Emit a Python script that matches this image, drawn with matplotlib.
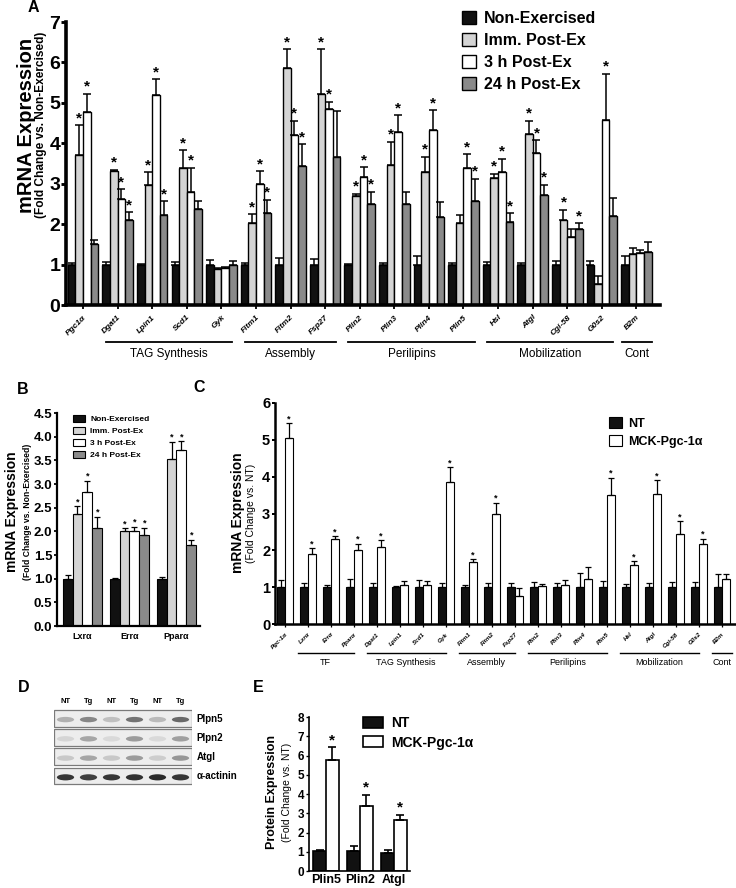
import numpy as np
import matplotlib
matplotlib.use('Agg')
import matplotlib.pyplot as plt
from matplotlib.patches import Rectangle, Ellipse
from matplotlib.transforms import blended_transform_factory

plt.rcParams['font.family'] = ['Liberation Sans', 'DejaVu Sans']

# ---------------- data ----------------
# panel A: exercise time course (fold change vs. non-exercised)
a_genes = ['Pgc1α', 'Dgat1', 'Lpin1', 'Scd1', 'Gyk', 'Fitm1', 'Fitm2', 'Fsp27', 'Plin2',
           'Plin3', 'Plin4', 'Plin5', 'Hsl', 'Atgl', 'Cgi-58', 'G0s2', 'B2m']
a_non = [1.0, 1.0, 1.0, 1.0, 1.0, 1.0, 1.0, 1.0, 1.0, 1.0, 1.0, 1.0, 1.0, 1.0, 1.0, 1.0, 1.0]
a_non_err = [0.05, 0.06, 0.02, 0.07, 0.12, 0.05, 0.17, 0.15, 0.01, 0.05, 0.2, 0.04, 0.06, 0.03, 0.1, 0.08, 0.22]
a_imm = [3.72, 3.32, 2.96, 3.38, 0.88, 2.02, 5.87, 5.22, 2.70, 3.46, 3.29, 2.03, 3.14, 4.22, 2.10, 0.52, 1.25]
a_imm_err = [0.73, 0.03, 0.32, 0.45, 0.03, 0.22, 0.45, 1.10, 0.05, 0.58, 0.38, 0.19, 0.11, 0.34, 0.26, 0.19, 0.17]
a_3h = [4.78, 2.62, 5.20, 2.80, 0.92, 2.99, 4.21, 4.85, 3.16, 4.27, 4.32, 3.39, 3.29, 3.77, 1.67, 4.57, 1.28]
a_3h_err = [0.45, 0.25, 0.38, 0.60, 0.02, 0.32, 0.35, 0.18, 0.25, 0.43, 0.50, 0.34, 0.33, 0.31, 0.21, 1.15, 0.08]
a_24h = [1.50, 2.11, 2.22, 2.37, 0.98, 2.27, 3.45, 3.65, 2.50, 2.50, 2.17, 2.58, 2.06, 2.72, 1.88, 2.20, 1.31]
a_24h_err = [0.10, 0.18, 0.35, 0.20, 0.10, 0.33, 0.52, 1.15, 0.30, 0.30, 0.37, 0.54, 0.21, 0.25, 0.14, 0.44, 0.25]
a_non_star = [0] * 17
a_imm_star = [1, 1, 1, 1, 0, 1, 1, 1, 1, 1, 1, 0, 1, 1, 1, 0, 0]
a_3h_star = [1, 1, 1, 1, 0, 1, 1, 1, 1, 1, 1, 1, 1, 1, 0, 1, 0]
a_24h_star = [0, 1, 1, 0, 0, 1, 1, 0, 1, 0, 0, 1, 1, 1, 1, 0, 0]
a_groups = [('TAG Synthesis', 1, 4), ('Assembly', 5, 7), ('Perilipins', 8, 11),
            ('Mobilization', 12, 15), ('Cont', 16, 16)]
time_labels = ['Non-Exercised', 'Imm. Post-Ex', '3 h Post-Ex', '24 h Post-Ex']

# panel B: transcription factors
b_genes = ['Lxrα', 'Errα', 'Pparα']
b_non = [1.0, 1.0, 1.0]
b_non_err = [0.08, 0.01, 0.03]
b_imm = [2.36, 2.01, 3.52]
b_imm_err = [0.17, 0.05, 0.37]
b_3h = [2.84, 2.01, 3.72]
b_3h_err = [0.23, 0.09, 0.18]
b_24h = [2.06, 1.92, 1.72]
b_24h_err = [0.25, 0.15, 0.10]
b_non_star = [0, 0, 0]
b_imm_star = [1, 1, 1]
b_3h_star = [1, 1, 1]
b_24h_star = [1, 1, 1]

# panel C: MCK-Pgc-1a vs NT
c_genes = ['Pgc-1α', 'Lxrα', 'Errα', 'Pparα', 'Dgat1', 'Lpin1', 'Scd1', 'Gyk', 'Fitm1', 'Fitm2',
           'Fsp27', 'Plin2', 'Plin3', 'Plin4', 'Plin5', 'Hsl', 'Atgl', 'Cgi-58', 'G0s2', 'B2m']
c_nt = [1.0] * 20
c_nt_err = [0.2, 0.1, 0.05, 0.22, 0.1, 0.03, 0.2, 0.1, 0.05, 0.12, 0.11, 0.14, 0.12, 0.38, 0.17,
            0.08, 0.11, 0.14, 0.15, 0.35]
c_mck = [5.06, 1.90, 2.31, 2.00, 2.08, 1.06, 1.06, 3.86, 1.68, 2.99, 0.77, 1.02, 1.06, 1.22, 3.49,
         1.59, 3.54, 2.45, 2.18, 1.23]
c_mck_err = [0.39, 0.16, 0.07, 0.18, 0.19, 0.11, 0.11, 0.39, 0.08, 0.30, 0.21, 0.06, 0.14, 0.32, 0.48,
             0.11, 0.36, 0.34, 0.14, 0.12]
c_nt_star = [0] * 20
c_mck_star = [1, 1, 1, 1, 1, 0, 0, 1, 1, 1, 0, 0, 0, 0, 1, 1, 1, 1, 1, 0]
c_groups = [('TF', 1, 3), ('TAG Synthesis', 4, 7), ('Assembly', 8, 10), ('Perilipins', 11, 14),
            ('Mobilization', 15, 18), ('Cont', 19, 19)]
geno_labels = ['NT', 'MCK-Pgc-1α']

# panel D: western blot (band darkness 0..1)
d_lanes = ['NT', 'Tg', 'NT', 'Tg', 'NT', 'Tg']
d_rows = ['Plpn5', 'Plpn2', 'Atgl', 'α-actinin']
d_bands = [[0.30, 0.50, 0.22, 0.60, 0.25, 0.65],
           [0.12, 0.35, 0.10, 0.40, 0.10, 0.38],
           [0.18, 0.35, 0.18, 0.40, 0.16, 0.42],
           [0.90, 0.85, 0.90, 0.92, 0.95, 0.90]]

# panel E: protein expression
e_prot = ['Plin5', 'Plin2', 'Atgl']
e_nt = [1.04, 1.02, 0.95]
e_nt_err = [0.06, 0.28, 0.15]
e_mck = [5.75, 3.39, 2.67]
e_mck_err = [0.69, 0.58, 0.26]
e_nt_star = [0, 0, 0]
e_mck_star = [1, 1, 1]

c_black = '#111111'
c_light = '#d4d4d4'
c_white = '#ffffff'
c_dark = '#8a8a8a'

W, H = 736, 888
fig = plt.figure(figsize=(W / 100, H / 100), dpi=100)


def px_axes(l, t, r, b):
    return fig.add_axes([l / W, 1 - b / H, (r - l) / W, (b - t) / H])


def ftext(x, y, s, **kw):
    fig.text(x / W, 1 - y / H, s, **kw)


def draw_groups(ax, series, errs, stars, colors, width, lw, elw, capsize, star_fs):
    n = len(series[0])
    k = len(series)
    x = np.arange(n)
    handles = []
    for j in range(k):
        xs = x + (j - (k - 1) / 2) * width
        b = ax.bar(xs, series[j], width, color=colors[j], edgecolor='black', linewidth=lw, zorder=2)
        ax.errorbar(xs, series[j], yerr=[np.zeros(n), errs[j]], fmt='none', ecolor='black',
                    elinewidth=elw, capsize=capsize, capthick=elw, zorder=3)
        for xi, v, e, s in zip(xs, series[j], errs[j], stars[j]):
            if s:
                ax.text(xi, v + e, '*', ha='center', va='bottom', fontsize=star_fs,
                        fontweight='bold', zorder=4)
        handles.append(b)
    return handles


def style_axes(ax, lw, ylim, yticks, ylabels, yfs, tick_len):
    for s in ['top', 'right']:
        ax.spines[s].set_visible(False)
    for s in ['left', 'bottom']:
        ax.spines[s].set_linewidth(lw)
    ax.set_ylim(*ylim)
    ax.set_yticks(yticks)
    ax.set_yticklabels(ylabels, fontsize=yfs, fontweight='bold')
    ax.tick_params(axis='y', width=lw * 0.8, length=tick_len, pad=1)
    ax.tick_params(axis='x', width=lw * 0.5, length=tick_len * 0.8)
    ax.patch.set_visible(False)


def group_lines(ax, groups, y_line, y_text, pad_l, pad_r, fs, lw):
    tr = blended_transform_factory(ax.transData, fig.transFigure)
    for name, i0, i1 in groups:
        l = i0 - (0.42 if i0 == i1 else pad_l)
        r = i1 + (0.44 if i0 == i1 else pad_r)
        ax.plot([l, r], [1 - y_line / H] * 2, color='black', lw=lw, transform=tr, clip_on=False)
        ax.text((l + r) / 2, 1 - y_text / H, name, ha='center', va='center', fontsize=fs,
                transform=tr)


# ---------------- panel A ----------------
ax_a = px_axes(66, 22, 660, 305)
ha = draw_groups(ax_a, [a_non, a_imm, a_3h, a_24h], [a_non_err, a_imm_err, a_3h_err, a_24h_err],
                 [a_non_star, a_imm_star, a_3h_star, a_24h_star],
                 [c_black, c_light, c_white, c_dark], 0.22, 1.0, 1.1, 3.2, 11)
style_axes(ax_a, 2.6, (0, 7), range(8), [str(v) for v in range(8)], 14, 3.5)
ax_a.tick_params(axis='y', pad=0.5)
ax_a.set_xlim(-0.49, 16.68)
ax_a.set_xticks(np.arange(len(a_genes)))
ax_a.set_xticklabels(a_genes, rotation=45, ha='right', rotation_mode='anchor', fontsize=6,
                     fontweight='bold', fontstyle='italic')
group_lines(ax_a, a_groups, 342, 354, 0.33, 0.32, 8.5, 1.3)
ax_a.legend(ha, time_labels, loc='upper left', bbox_to_anchor=(462 / W, 1 - 11 / H),
            bbox_transform=fig.transFigure, frameon=False, prop={'weight': 'bold', 'size': 11.5},
            handlelength=0.9, handleheight=0.9, handletextpad=0.5, labelspacing=0.42,
            borderpad=0, borderaxespad=0)
ftext(27, 125, 'mRNA Expression', rotation=90, ha='center', va='center', fontsize=14.5,
      fontweight='bold')
ftext(41, 125, '(Fold Change vs. Non-Exercised)', rotation=90, ha='center', va='center',
      fontsize=8.6, fontweight='bold')
ftext(28, 8, 'A', ha='left', va='center', fontsize=11.5, fontweight='bold')

# ---------------- panel B ----------------
ax_b = px_axes(57, 413, 200, 626)
hb = draw_groups(ax_b, [b_non, b_imm, b_3h, b_24h], [b_non_err, b_imm_err, b_3h_err, b_24h_err],
                 [b_non_star, b_imm_star, b_3h_star, b_24h_star],
                 [c_black, c_light, c_white, c_dark], 0.21, 0.8, 0.9, 2.2, 6.5)
bt = np.arange(0, 4.6, 0.5)
style_axes(ax_b, 1.6, (0, 4.5), bt, [f'{v:.1f}' for v in bt], 9.5, 2.5)
ax_b.set_xlim(-0.54, 2.5)
ax_b.set_xticks(np.arange(len(b_genes)))
ax_b.set_xticklabels(b_genes, fontsize=6.5, fontweight='bold')
ax_b.tick_params(axis='x', length=0, pad=4)
ax_b.legend(hb, time_labels, loc='upper left', bbox_to_anchor=(73 / W, 1 - 415 / H),
            bbox_transform=fig.transFigure, frameon=False, prop={'weight': 'bold', 'size': 6},
            handlelength=1.45, handleheight=0.85, handletextpad=0.6, labelspacing=0.45,
            borderpad=0, borderaxespad=0)
ftext(12, 512, 'mRNA Expression', rotation=90, ha='center', va='center', fontsize=10,
      fontweight='bold')
ftext(27, 512, '(Fold Change vs. Non-Exercised)', rotation=90, ha='center', va='center',
      fontsize=6.2, fontweight='bold')
ftext(17, 389, 'B', ha='left', va='center', fontsize=11.5, fontweight='bold')

# ---------------- panel C ----------------
ax_c = px_axes(275, 403, 735, 624)
hc = draw_groups(ax_c, [c_nt, c_mck], [c_nt_err, c_mck_err], [c_nt_star, c_mck_star],
                 [c_black, c_white], 0.35, 0.8, 0.9, 2.2, 6.5)
style_axes(ax_c, 1.8, (0, 6), range(7), [str(v) for v in range(7)], 10.5, 2.5)
ax_c.set_xlim(-0.43, 19.57)
ax_c.set_xticks(np.arange(len(c_genes)))
ax_c.set_xticklabels(c_genes, rotation=45, ha='right', rotation_mode='anchor', fontsize=4.5,
                     fontweight='bold', fontstyle='italic')
group_lines(ax_c, c_groups, 653, 662, 0.45, 0.0, 6.5, 1.0)
ax_c.legend(hc, geno_labels, loc='upper left', bbox_to_anchor=(609 / W, 1 - 417 / H),
            bbox_transform=fig.transFigure, frameon=False, prop={'weight': 'bold', 'size': 9},
            handlelength=1.0, handleheight=1.0, handletextpad=0.5, labelspacing=0.4,
            borderpad=0, borderaxespad=0)
ftext(238, 513, 'mRNA Expression', rotation=90, ha='center', va='center', fontsize=10,
      fontweight='bold')
ftext(251, 513, '(Fold Change vs. NT)', rotation=90, ha='center', va='center', fontsize=7.5)
ftext(193, 387, 'C', ha='left', va='center', fontsize=11.5, fontweight='bold')

# ---------------- panel D ----------------
ax_d = px_axes(54, 709, 192, 786)
ax_d.set_xlim(-0.5, len(d_lanes) - 0.5)
ax_d.set_ylim(len(d_rows), 0)
ax_d.axis('off')
for r, (name, dens) in enumerate(zip(d_rows, d_bands)):
    ax_d.add_patch(Rectangle((-0.5, r + 0.04), len(d_lanes), 0.88, facecolor='#ededed',
                             edgecolor='#7a7a7a', linewidth=0.9))
    for k, v in enumerate(dens):
        g = 0.93 - 0.8 * v
        ax_d.add_patch(Ellipse((k, r + 0.55), 0.75, 0.28 if r < 3 else 0.32,
                               facecolor=(g, g, g), edgecolor='none'))
    ax_d.text(len(d_lanes) - 0.3, r + 0.5, name, ha='left', va='center', fontsize=7,
              fontweight='bold', clip_on=False)
for k, lane in enumerate(d_lanes):
    ax_d.text(k, -0.22, lane, ha='center', va='bottom', fontsize=5.5, fontweight='bold',
              clip_on=False)
ftext(18, 688, 'D', ha='left', va='center', fontsize=11.5, fontweight='bold')

# ---------------- panel E ----------------
ax_e = px_axes(309, 717, 410, 871)
he = draw_groups(ax_e, [e_nt, e_mck], [e_nt_err, e_mck_err], [e_nt_star, e_mck_star],
                 [c_black, c_white], 0.37, 1.2, 1.2, 3.0, 11)
style_axes(ax_e, 1.2, (0, 8), range(9), [str(v) for v in range(9)], 8.5, 2.5)
ax_e.set_xlim(-0.5, 2.47)
ax_e.set_xticks(np.arange(len(e_prot)))
ax_e.set_xticklabels(e_prot, fontsize=9, fontweight='bold')
ax_e.tick_params(axis='x', length=0, pad=2)
ax_e.legend(he, geno_labels, loc='upper left', bbox_to_anchor=(363 / W, 1 - 716 / H),
            bbox_transform=fig.transFigure, frameon=False, prop={'weight': 'bold', 'size': 10},
            handlelength=1.45, handleheight=0.85, handletextpad=0.6, labelspacing=0.4,
            borderpad=0, borderaxespad=0)
ftext(272, 792, 'Protein Expression', rotation=90, ha='center', va='center', fontsize=9,
      fontweight='bold')
ftext(287, 792, '(Fold Change vs. NT)', rotation=90, ha='center', va='center', fontsize=7.5)
ftext(253, 687, 'E', ha='left', va='center', fontsize=11.5, fontweight='bold')

fig.savefig('out.png', dpi=100)
